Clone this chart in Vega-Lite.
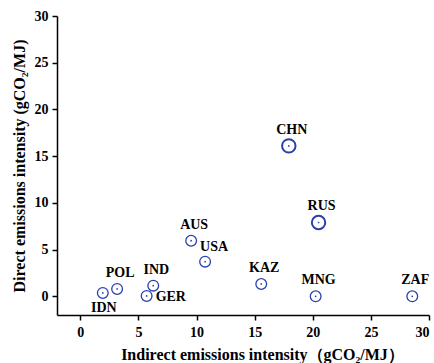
{
  "$schema": "https://vega.github.io/schema/vega-lite/v6.json",
  "width": 372,
  "height": 299,
  "autosize": {"type": "none"},
  "padding": {"left": 57, "top": 16, "right": 5, "bottom": 48},
  "background": "white",
  "config": {
    "view": {"stroke": null},
    "font": "Liberation Serif",
    "axis": {
      "grid": false,
      "domainColor": "black",
      "domainWidth": 1.5,
      "tickColor": "black",
      "tickWidth": 1.5,
      "tickSize": 5,
      "labelFont": "Liberation Serif",
      "labelFontWeight": "bold",
      "labelFontSize": 14,
      "labelColor": "black",
      "titleFont": "Liberation Serif",
      "titleFontWeight": "bold",
      "titleFontSize": 16,
      "titleColor": "black"
    }
  },
  "data": {
    "values": [
      {"country": "IDN", "indirect": 1.94, "direct": 0.36},
      {"country": "POL", "indirect": 3.17, "direct": 0.79},
      {"country": "GER", "indirect": 5.71, "direct": 0.04},
      {"country": "IND", "indirect": 6.28, "direct": 1.14},
      {"country": "AUS", "indirect": 9.54, "direct": 5.95},
      {"country": "USA", "indirect": 10.74, "direct": 3.71},
      {"country": "KAZ", "indirect": 15.57, "direct": 1.32},
      {"country": "CHN", "indirect": 17.94, "direct": 16.1},
      {"country": "RUS", "indirect": 20.5, "direct": 7.9},
      {"country": "MNG", "indirect": 20.25, "direct": 0.0},
      {"country": "ZAF", "indirect": 28.56, "direct": 0.0}
    ]
  },
  "encoding": {
    "x": {
      "field": "indirect",
      "type": "quantitative",
      "scale": {"domain": [-2, 30], "nice": false, "zero": false},
      "axis": {
        "values": [0, 5, 10, 15, 20, 25, 30],
        "title": "Indirect emissions intensity（gCO₂/MJ）",
        "titleX": 205,
        "titlePadding": 7,
        "labelPadding": 5
      }
    },
    "y": {
      "field": "direct",
      "type": "quantitative",
      "scale": {"domain": [-2, 30], "nice": false, "zero": false},
      "axis": {
        "values": [0, 5, 10, 15, 20, 25, 30],
        "title": "Direct emissions intensity (gCO₂/MJ)",
        "titlePadding": 7,
        "labelPadding": 4
      }
    }
  },
  "layer": [
    {
      "mark": {"type": "point", "shape": "circle", "filled": false, "color": "#2a40ad", "opacity": 1},
      "encoding": {
        "size": {"condition": {"test": "datum.country === 'CHN' || datum.country === 'RUS'", "value": 180}, "value": 115},
        "strokeWidth": {"condition": {"test": "datum.country === 'CHN' || datum.country === 'RUS'", "value": 2}, "value": 1.3}
      }
    },
    {
      "mark": {"type": "circle", "color": "#2a40ad", "size": 3, "opacity": 1},
      "encoding": {}
    },
    {
      "transform": [{"filter": "indexof(['CHN','RUS','MNG','ZAF','KAZ','AUS','IND','POL'], datum.country) >= 0"}],
      "mark": {"type": "text", "fontWeight": "bold", "fontSize": 14, "dx": 3, "dy": -16, "color": "black"},
      "encoding": {"text": {"field": "country"}}
    },
    {
      "transform": [{"filter": "datum.country === 'USA'"}],
      "mark": {"type": "text", "fontWeight": "bold", "fontSize": 14, "dx": 9, "dy": -15, "color": "black"},
      "encoding": {"text": {"field": "country"}}
    },
    {
      "transform": [{"filter": "datum.country === 'GER'"}],
      "mark": {"type": "text", "fontWeight": "bold", "fontSize": 14, "align": "left", "dx": 9, "dy": 1, "color": "black"},
      "encoding": {"text": {"field": "country"}}
    },
    {
      "transform": [{"filter": "datum.country === 'IDN'"}],
      "mark": {"type": "text", "fontWeight": "bold", "fontSize": 14, "dx": 1, "dy": 15, "color": "black"},
      "encoding": {"text": {"field": "country"}}
    }
  ]
}
